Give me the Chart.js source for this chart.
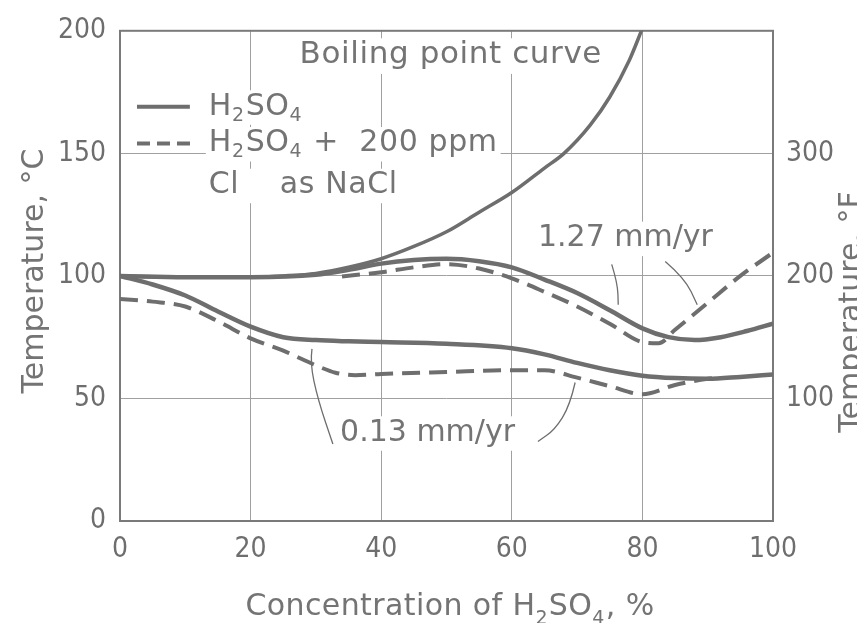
<!DOCTYPE html>
<html>
<head>
<meta charset="utf-8">
<script src="https://cdn.jsdelivr.net/npm/chart.js@4.4.1/dist/chart.umd.min.js"></script>
<style>
html, body { margin: 0; padding: 0; background: #fff; }
#wrap { width: 857px; height: 623px; }
</style>
</head>
<body>
<div id="wrap"><canvas id="myChart"></canvas></div>
<script>
// boiling point curve
const boilConc = [0, 10, 20, 25, 30, 35, 40, 45, 50, 55, 60, 65, 68, 72, 75, 78, 80]
const boilTemp = [100, 99.5, 99.5, 100, 101, 103.5, 107, 112, 118, 126, 134, 144, 150, 161.5, 173, 188, 201]

// 1.27 mm/yr, H2SO4
const fastConc = [0, 10, 20, 30, 35, 40, 45, 50, 55, 60, 65, 70, 75, 80, 84, 88, 92, 96, 100]
const fastTemp = [100, 99.5, 99.5, 100.5, 102.5, 105, 106.5, 107, 106, 103.5, 98.5, 93, 86, 78.6, 75, 73.8, 75, 77.5, 80.5]

// 1.27 mm/yr, H2SO4 + 200 ppm Cl
const fastClConc = [34, 40, 45, 50, 55, 60, 65, 70, 75, 80, 82.5, 85, 90, 95, 100]
const fastClTemp = [99.8, 101.5, 103.5, 104.8, 103, 99, 93.5, 87.5, 80.5, 73, 72.5, 78, 89, 100, 109.5]

// 0.13 mm/yr, H2SO4
const slowConc = [0, 5, 10, 15, 20, 25, 30, 35, 40, 50, 60, 65, 70, 75, 80, 85, 90, 95, 100]
const slowTemp = [100, 96.5, 92, 85.5, 79.3, 75, 73.8, 73.3, 73, 72.3, 70.5, 68, 64.5, 61.5, 59.3, 58.3, 58, 58.8, 59.8]

// 0.13 mm/yr, H2SO4 + 200 ppm Cl
const slowClConc = [0, 5, 10, 15, 20, 25, 30, 33, 36, 40, 50, 60, 65, 70, 75, 80, 85, 90, 92]
const slowClTemp = [90.6, 89.5, 87.5, 81.5, 74.5, 69.5, 63.5, 60.5, 59.5, 60, 60.8, 61.5, 61.5, 58.5, 55, 51.7, 55.5, 58, 58.5]

const fTicks = [100, 200, 300]

const ink = '#6e6e6e'
const textInk = '#747474'
const tickFont = "'Liberation Sans Narrow', 'DejaVu Sans Condensed', sans-serif"
const textFont = "'DejaVu Sans', sans-serif"

function pts(xs, ys) {
    return xs.map((x, i) => ({x: x, y: ys[i]}))
}

function line(xs, ys, dashed, width) {
    return {
        data: pts(xs, ys),
        borderColor: ink,
        borderWidth: width,
        borderDash: dashed ? [18, 9] : [],
        pointRadius: 0,
        fill: false,
        cubicInterpolationMode: 'monotone'
    }
}

// text with subscripts: parts like ['H', '_2', 'SO', '_4']
function rich(ctx, parts, x, y, size) {
    let cx = x
    for (const p of parts) {
        if (p.startsWith('_')) {
            ctx.font = `${Math.round(size * 0.62)}px ${textFont}`
            ctx.fillText(p.slice(1), cx, y + size * 0.3)
            cx += ctx.measureText(p.slice(1)).width + 1
        } else {
            ctx.font = `${size}px ${textFont}`
            ctx.fillText(p, cx, y)
            cx += ctx.measureText(p).width
        }
    }
    return cx - x
}

function richWidth(ctx, parts, size) {
    let w = 0
    for (const p of parts) {
        if (p.startsWith('_')) {
            ctx.font = `${Math.round(size * 0.62)}px ${textFont}`
            w += ctx.measureText(p.slice(1)).width + 1
        } else {
            ctx.font = `${size}px ${textFont}`
            w += ctx.measureText(p).width
        }
    }
    return w
}

const textPlugin = {
    id: 'texts',
    beforeDatasetsDraw(chart) {
        const {ctx, chartArea: a} = chart
        ctx.save()
        ctx.strokeStyle = '#7a7a7a'
        ctx.lineWidth = 2
        ctx.strokeRect(a.left, a.top, a.right - a.left, a.bottom - a.top)
        ctx.restore()
    },
    afterDatasetsDraw(chart) {
        const {ctx, scales} = chart
        const X = v => scales.x.getPixelForValue(v)
        const Y = v => scales.y.getPixelForValue(v)
        ctx.save()
        ctx.fillStyle = textInk
        ctx.strokeStyle = ink
        ctx.textBaseline = 'middle'
        ctx.letterSpacing = '0.6px'

        // label with white box behind it so grid lines break there
        function label(parts, x, y, size) {
            const w = richWidth(ctx, parts, size)
            ctx.fillStyle = '#fff'
            ctx.fillRect(x - 3, y - size * 0.55, w + 6, size * 1.15)
            ctx.fillStyle = textInk
            rich(ctx, parts, x, y, size)
        }

        label(['Boiling point curve'], X(27.5), Y(190), 31)

        // legend
        ctx.lineWidth = 4
        ctx.setLineDash([])
        ctx.beginPath()
        ctx.moveTo(X(2.6), Y(169)); ctx.lineTo(X(10.7), Y(169))
        ctx.stroke()
        ctx.setLineDash([13, 7])
        ctx.beginPath()
        ctx.moveTo(X(2.6), Y(154)); ctx.lineTo(X(10.9), Y(154))
        ctx.stroke()
        ctx.setLineDash([])
        label(['H', '_2', 'SO', '_4'], X(13.6), Y(169), 30)
        label(['H', '_2', 'SO', '_4', ' +  200 ppm'], X(13.6), Y(154), 30)
        label(['Cl    as NaCl'], X(13.6), Y(137), 30)

        ctx.letterSpacing = '0px'
        label(['1.27 mm/yr'], X(64), Y(115.4), 30)
        label(['0.13 mm/yr'], X(33.7), Y(36), 30)

        // leader lines
        ctx.lineWidth = 1.3
        function leader(p) {
            ctx.beginPath()
            ctx.moveTo(X(p[0][0]), Y(p[0][1]))
            for (let i = 1; i < p.length - 1; i++) {
                const mx = (X(p[i][0]) + X(p[i + 1][0])) / 2
                const my = (Y(p[i][1]) + Y(p[i + 1][1])) / 2
                ctx.quadraticCurveTo(X(p[i][0]), Y(p[i][1]), mx, my)
            }
            const last = p[p.length - 1]
            ctx.lineTo(X(last[0]), Y(last[1]))
            ctx.stroke()
        }
        leader([[75.3, 104.7], [76.2, 97], [76.3, 88.2]])
        leader([[83.5, 105.9], [86.5, 99], [88.4, 88.2]])
        leader([[29.4, 70.2], [29.1, 64.5], [30.3, 49.6], [32.6, 31.4]])
        leader([[69.7, 56.5], [68.9, 47.1], [66.6, 37.3], [64, 32.4]])

        // axis titles
        ctx.textBaseline = 'alphabetic'
        ctx.font = `30px ${textFont}`
        ctx.textAlign = 'center'
        ctx.save()
        ctx.translate(43, 271)
        ctx.rotate(-Math.PI / 2)
        ctx.fillText('Temperature, °C', 0, 0)
        ctx.restore()
        ctx.save()
        ctx.translate(860, 312)
        ctx.rotate(-Math.PI / 2)
        ctx.fillText('Temperature, °F', 0, 0)
        ctx.restore()
        ctx.textAlign = 'left'
        ctx.letterSpacing = '0.4px'
        const xt = ['Concentration of H', '_2', 'SO', '_4', ', %']
        const w = richWidth(ctx, xt, 30)
        rich(ctx, xt, 450 - w / 2, 615, 30)
        ctx.restore()
    }
}

const ctx = document.getElementById('myChart')
const chart = new Chart(ctx, {
    type: 'line',
    data: {
        datasets: [
            line(boilConc, boilTemp, false, 3.5),
            line(fastConc, fastTemp, false, 4.5),
            line(fastClConc, fastClTemp, true, 4),
            line(slowConc, slowTemp, false, 4.5),
            line(slowClConc, slowClTemp, true, 4)
        ]
    },
    options: {
        responsive: true,
        maintainAspectRatio: false,
        animation: false,
        devicePixelRatio: 1,
        layout: {padding: {top: 30, left: 0, right: 0, bottom: 0}},
        plugins: {legend: {display: false}, tooltip: {enabled: false}},
        scales: {
            x: {
                type: 'linear',
                min: 0, max: 100,
                ticks: {stepSize: 20, color: ink, padding: 12, font: {family: tickFont, size: 28}},
                grid: {color: '#a0a0a0', lineWidth: 1, drawTicks: false},
                border: {display: false},
                afterFit: s => { s.height = 102 }
            },
            y: {
                min: 0, max: 200,
                ticks: {stepSize: 50, color: ink, padding: 14, font: {family: tickFont, size: 28}},
                grid: {color: '#a0a0a0', lineWidth: 1, drawTicks: false},
                border: {display: false},
                afterFit: s => { s.width = 120 }
            },
            yF: {
                position: 'right',
                min: 0, max: 400,
                ticks: {
                    stepSize: 100, color: ink, padding: 13, font: {family: tickFont, size: 28},
                    callback: v => fTicks.includes(v) ? v : ''
                },
                grid: {display: false, drawTicks: false},
                border: {display: false},
                afterFit: s => { s.width = 84 }
            }
        }
    },
    plugins: [textPlugin]
})
</script>
</body>
</html>
